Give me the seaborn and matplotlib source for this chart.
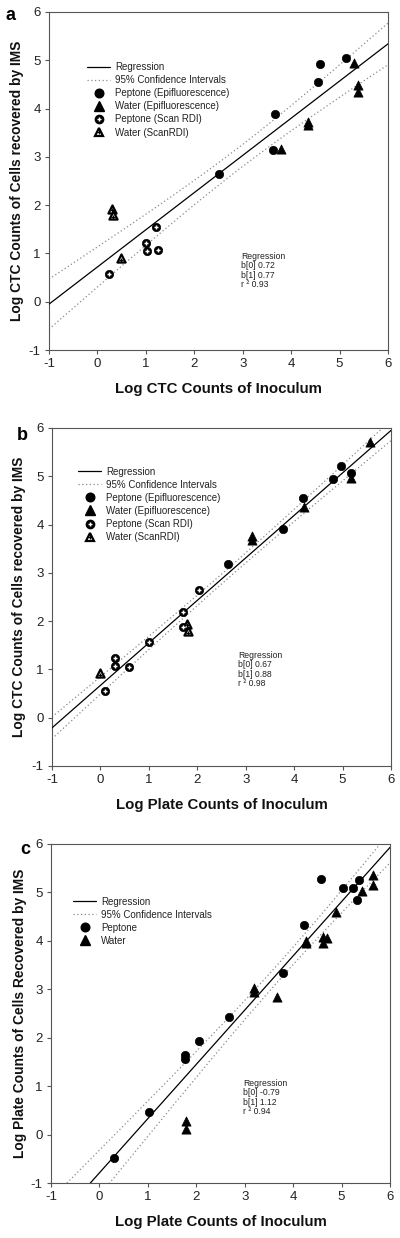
import numpy as np
import matplotlib
matplotlib.use("Agg")
import matplotlib.pyplot as plt
import seaborn as sns
from matplotlib.lines import Line2D
from matplotlib.legend_handler import HandlerTuple

# ---------------- data ----------------
# Panel a: Log CTC counts of inoculum vs log CTC counts recovered by IMS
a_pep_epi_x = [5.13, 4.60, 4.56, 3.67, 3.62, 2.52]
a_pep_epi_y = [5.05, 4.93, 4.54, 3.89, 3.15, 2.64]
a_wat_epi_x = [5.30, 5.38, 5.38, 4.34, 4.34, 3.79]
a_wat_epi_y = [4.95, 4.49, 4.35, 3.73, 3.65, 3.17]
a_pep_scan_x = [1.20, 1.00, 1.03, 1.25, 0.23]
a_pep_scan_y = [1.55, 1.22, 1.04, 1.07, 0.57]
a_wat_scan_x = [0.31, 0.32, 0.49]
a_wat_scan_y = [1.93, 1.80, 0.90]
a_coef = (0.72, 0.77, 0.93)

# Panel b: Log plate counts of inoculum vs log CTC counts recovered by IMS
b_pep_epi_x = [4.96, 4.81, 5.18, 4.19, 3.76, 2.64]
b_pep_epi_y = [5.22, 4.94, 5.06, 4.56, 3.91, 3.18]
b_wat_epi_x = [5.57, 5.18, 4.20, 3.14, 3.14]
b_wat_epi_y = [5.71, 4.96, 4.37, 3.76, 3.68]
b_pep_scan_x = [2.04, 1.71, 1.70, 1.00, 0.30, 0.30, 0.59, 0.10]
b_pep_scan_y = [2.65, 2.18, 1.87, 1.56, 1.23, 1.07, 1.05, 0.56]
b_wat_scan_x = [0.00, 1.78, 1.80]
b_wat_scan_y = [0.92, 1.95, 1.80]
b_coef = (0.67, 0.88, 0.98)

# Panel c: Log plate counts of inoculum vs log plate counts recovered by IMS
c_pep_x = [4.57, 5.03, 5.23, 5.36, 5.31, 4.23, 3.79, 2.67, 2.06, 1.76, 1.76, 1.03, 0.31]
c_pep_y = [5.28, 5.10, 5.10, 5.26, 4.85, 4.33, 3.34, 2.42, 1.94, 1.65, 1.57, 0.47, -0.48]
c_wat_x = [5.64, 5.65, 5.43, 4.88, 4.61, 4.70, 4.62, 4.26, 4.26, 3.67, 3.19, 3.19, 1.79, 1.79]
c_wat_y = [5.37, 5.16, 5.02, 4.59, 4.08, 4.06, 3.96, 4.00, 3.95, 2.84, 3.03, 2.95, 0.29, 0.11]
c_coef = (-0.79, 1.12, 0.94)

ticks = [-1, 0, 1, 2, 3, 4, 5, 6]

# ---------------- style ----------------
sns.set_style("ticks")
plt.rcParams['font.family'] = ['Liberation Sans', 'DejaVu Sans']

fig = plt.figure(figsize=(4, 12.38), dpi=100)
W, H = 400, 1238

def add_axes(left, top, right, bottom):
    return fig.add_axes([left / W, 1 - bottom / H, (right - left) / W, (bottom - top) / H])

axa = add_axes(49, 12, 388, 350)
axb = add_axes(52, 428, 391, 766)
axc = add_axes(51, 844, 390, 1183)

MS = 36
CI_COLOR = '#8a8a8a'


def draw_filled(ax, x, y, marker):
    sns.scatterplot(x=x, y=y, marker=marker, color='black', s=MS if marker == 'o' else 44,
                    edgecolor='black', linewidth=0.5, ax=ax, zorder=4)


def draw_scan_circle(ax, x, y):
    sns.scatterplot(x=x, y=y, marker='o', color='black', s=MS, edgecolor='black',
                    linewidth=0.5, ax=ax, zorder=4)
    ax.scatter(x, y, marker='+', color='white', s=10, linewidths=1.0, zorder=5)


def draw_scan_tri(ax, x, y):
    sns.scatterplot(x=x, y=y, marker='^', color='white', s=34, edgecolor='black',
                    linewidth=1.6, ax=ax, zorder=4)
    ax.scatter(np.asarray(x), np.asarray(y) - 0.04, marker='+',
               color='black', s=8, linewidths=0.9, zorder=5)


def draw_regression(ax, xs_all, ys_all, coef):
    b0, b1, _ = coef
    xs_all = np.asarray(xs_all, float)
    ys_all = np.asarray(ys_all, float)
    n = len(xs_all)
    grid = np.linspace(-1, 6, 200)
    fit = b0 + b1 * grid
    resid = ys_all - (b0 + b1 * xs_all)
    s = np.sqrt(np.sum(resid ** 2) / (n - 2))
    xbar = xs_all.mean()
    sxx = np.sum((xs_all - xbar) ** 2)
    half = 2.08 * s * np.sqrt(1.0 / n + (grid - xbar) ** 2 / sxx)
    sns.lineplot(x=grid, y=fit, color='black', lw=0.9, ax=ax, zorder=3)
    ax.plot(grid, fit + half, color=CI_COLOR, lw=0.9, ls=(0, (1, 2)), zorder=2)
    ax.plot(grid, fit - half, color=CI_COLOR, lw=0.9, ls=(0, (1, 2)), zorder=2)


def style_axes(ax, xlabel, ylabel, ylab_x):
    ax.set_xlim(-1, 6)
    ax.set_ylim(-1, 6)
    ax.set_xticks(ticks)
    ax.set_yticks(ticks)
    ax.set_xticklabels([str(t) for t in ticks])
    ax.set_yticklabels([str(t) for t in ticks])
    for sp in ax.spines.values():
        sp.set_visible(True)
        sp.set_color('#555555')
        sp.set_linewidth(0.8)
    ax.tick_params(direction='out', length=3, width=0.8, color='#555555',
                   labelsize=9.5, pad=3, labelcolor='#222222')
    ax.set_xlabel(xlabel, fontsize=10.8, fontweight='bold', color='#111111')
    ax.set_ylabel(ylabel, fontsize=9.9, fontweight='bold', color='#111111')
    ax.xaxis.set_label_coords(0.5, -0.094)
    ax.yaxis.set_label_coords(ylab_x, 0.5)


def reg_text(ax, x, y, coef):
    b0, b1, r2 = coef
    ax.text(x, y, "Regression\nb[0] %.2f\nb[1] %.2f\nr \u00b2 %.2f" % (b0, b1, r2),
            transform=ax.transAxes, fontsize=6.2, va='top', ha='left',
            linespacing=1.05, color='#222222')


line_h = Line2D([], [], color='black', lw=0.9)
ci_h = Line2D([], [], color=CI_COLOR, lw=0.9, ls=(0, (1, 2)))
pep_h = Line2D([], [], marker='o', color='black', ls='none', markersize=6.2)
wat_h = Line2D([], [], marker='^', color='black', ls='none', markersize=6.6)
pep_s_h = (Line2D([], [], marker='o', color='black', ls='none', markersize=6),
           Line2D([], [], marker='+', color='white', ls='none', markersize=3.5, mew=1.0))
wat_s_h = (Line2D([], [], marker='^', markerfacecolor='white', markeredgecolor='black',
                  ls='none', markersize=6, mew=1.6),
           Line2D([], [], marker='+', color='black', ls='none', markersize=3, mew=0.9))


def add_legend(ax, handles, labels, x, y):
    ax.legend(handles, labels, loc='upper left', bbox_to_anchor=(x, y), frameon=False,
              fontsize=7, handlelength=2.4, handletextpad=0.5, labelspacing=0.32,
              borderpad=0, borderaxespad=0,
              handler_map={tuple: HandlerTuple(ndivide=1, pad=0)})
    leg = ax.get_legend()
    for t in leg.get_texts():
        t.set_color('#222222')


full_labels = ['Regression', '95% Confidence Intervals', 'Peptone (Epifluorescence)',
               'Water (Epifluorescence)', 'Peptone (Scan RDI)', 'Water (ScanRDI)']

# ---- panel a ----
ax = axa
draw_regression(ax, a_pep_epi_x + a_wat_epi_x + a_pep_scan_x + a_wat_scan_x,
                a_pep_epi_y + a_wat_epi_y + a_pep_scan_y + a_wat_scan_y, a_coef)
draw_filled(ax, a_pep_epi_x, a_pep_epi_y, 'o')
draw_filled(ax, a_wat_epi_x, a_wat_epi_y, '^')
draw_scan_circle(ax, a_pep_scan_x, a_pep_scan_y)
draw_scan_tri(ax, a_wat_scan_x, a_wat_scan_y)
style_axes(ax, 'Log CTC Counts of Inoculum', 'Log CTC Counts of Cells recovered by IMS', -0.075)
add_legend(ax, [line_h, ci_h, pep_h, wat_h, pep_s_h, wat_s_h], full_labels, 0.112, 0.852)
reg_text(ax, 0.566, 0.29, a_coef)

# ---- panel b ----
ax = axb
draw_regression(ax, b_pep_epi_x + b_wat_epi_x + b_pep_scan_x + b_wat_scan_x,
                b_pep_epi_y + b_wat_epi_y + b_pep_scan_y + b_wat_scan_y, b_coef)
draw_filled(ax, b_pep_epi_x, b_pep_epi_y, 'o')
draw_filled(ax, b_wat_epi_x, b_wat_epi_y, '^')
draw_scan_circle(ax, b_pep_scan_x, b_pep_scan_y)
draw_scan_tri(ax, b_wat_scan_x, b_wat_scan_y)
style_axes(ax, 'Log Plate Counts of Inoculum', 'Log CTC Counts of Cells recovered by IMS', -0.078)
add_legend(ax, [line_h, ci_h, pep_h, wat_h, pep_s_h, wat_s_h], full_labels, 0.077, 0.886)
reg_text(ax, 0.549, 0.34, b_coef)

# ---- panel c ----
ax = axc
draw_regression(ax, c_pep_x + c_wat_x, c_pep_y + c_wat_y, c_coef)
draw_filled(ax, c_pep_x, c_pep_y, 'o')
draw_filled(ax, c_wat_x, c_wat_y, '^')
style_axes(ax, 'Log Plate Counts of Inoculum', 'Log Plate Counts of Cells Recovered by IMS', -0.072)
add_legend(ax, [line_h, ci_h, pep_h, wat_h],
           ['Regression', '95% Confidence Intervals', 'Peptone', 'Water'], 0.065, 0.845)
reg_text(ax, 0.566, 0.307, c_coef)

# panel letters
for letter, (px, py) in zip(['a', 'b', 'c'], [(10, 15), (22, 435), (25, 850)]):
    fig.text(px / W, 1 - py / H, letter, fontsize=13, fontweight='bold',
             ha='center', va='center', color='black')

fig.savefig('out.png', dpi=100)
